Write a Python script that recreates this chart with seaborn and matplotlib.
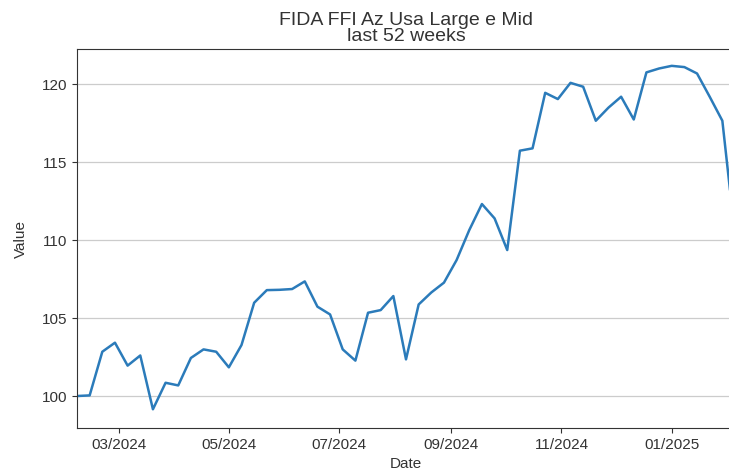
import matplotlib
matplotlib.use("Agg")
import matplotlib.pyplot as plt
import matplotlib.dates as mdates
import seaborn as sns
import pandas as pd

start_date = "2024-02-07"
values = [
    100.00, 100.04, 102.84, 103.42, 101.95, 102.60, 99.15, 100.85, 100.68, 102.44,
    102.99, 102.84, 101.84, 103.27, 105.98, 106.79, 106.81, 106.86, 107.35, 105.73,
    105.23, 102.99, 102.27, 105.34, 105.51, 106.41, 102.35, 105.87, 106.64, 107.27,
    108.72, 110.64, 112.31, 111.39, 109.36, 115.73, 115.88, 119.44, 119.04, 120.08,
    119.83, 117.65, 118.49, 119.19, 117.73, 120.75, 121.00, 121.17, 121.09, 120.68,
    119.19, 117.65, 110.3,
]
dates = pd.date_range(start_date, periods=len(values), freq="7D")
df = pd.DataFrame({"Date": dates, "Value": values})

sns.set_style("ticks")
plt.rcParams["font.family"] = ["Liberation Sans", "DejaVu Sans"]

fig = plt.figure(figsize=(7.29, 4.76), dpi=100)
ax = fig.add_axes([77 / 729, 48 / 476, (735 - 77) / 729, (428 - 49) / 476])
sns.lineplot(data=df, x="Date", y="Value", ax=ax, color="#2b7bba", linewidth=1.8)

ax.set_xlim(dates[0], dates[-1])
ax.set_ylim(97.95, 122.25)
ax.set_yticks([100, 105, 110, 115, 120])
ax.yaxis.grid(True, color="#cccccc", linewidth=0.9)
ax.xaxis.set_major_locator(mdates.MonthLocator(bymonth=[1, 3, 5, 7, 9, 11]))
ax.xaxis.set_major_formatter(mdates.DateFormatter("%m/%Y"))
ax.tick_params(labelsize=11, colors="#333333")
for s in ax.spines.values():
    s.set_color("#333333")
ax.set_xlabel("Date", fontsize=11, color="#333333")
ax.set_ylabel("Value", fontsize=11, color="#333333", labelpad=10)
ax.set_title("FIDA FFI Az Usa Large e Mid\nlast 52 weeks", fontsize=14, color="#333333",
             linespacing=0.92, pad=6)

fig.savefig("out.png", dpi=100)
